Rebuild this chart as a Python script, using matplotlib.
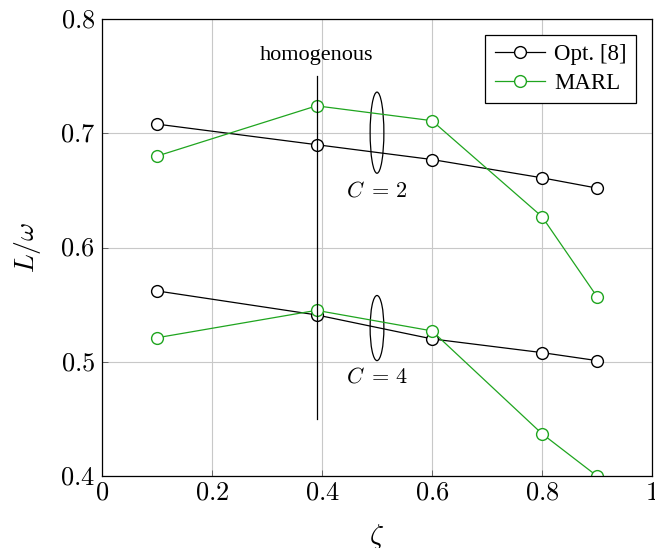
import matplotlib
matplotlib.use("Agg")
import matplotlib.pyplot as plt
from matplotlib.patches import Ellipse

# datos
zeta = [0.1, 0.39, 0.6, 0.8, 0.9]
opt_c2 = [0.708, 0.690, 0.677, 0.661, 0.652]
marl_c2 = [0.680, 0.724, 0.711, 0.627, 0.557]
opt_c4 = [0.562, 0.541, 0.520, 0.508, 0.501]
marl_c4 = [0.521, 0.545, 0.527, 0.437, 0.400]

xticks = [0, 0.2, 0.4, 0.6, 0.8, 1]
yticks = [0.4, 0.5, 0.6, 0.7, 0.8]

verde = "#1fa51f"
plt.rcParams["mathtext.fontset"] = "cm"
plt.rcParams["font.family"] = "Liberation Serif"

fig = plt.figure(figsize=(6.55, 5.48), dpi=100)
ax = fig.add_axes([102 / 655, 1 - 476 / 548, 550 / 655, 457 / 548])

estilo = dict(marker="o", markersize=8.5, markerfacecolor="white", lw=0.9)
ax.plot(zeta, opt_c2, color="black", label="Opt. [8]", **estilo)
ax.plot(zeta, marl_c2, color=verde, label="MARL", **estilo)
ax.plot(zeta, opt_c4, color="black", **estilo)
ax.plot(zeta, marl_c4, color=verde, **estilo)

# linea vertical "homogenous"
ax.plot([0.39, 0.39], [0.45, 0.75], color="black", lw=0.9)
ax.text(0.39, 0.768, "homogenous", ha="center", va="center", fontsize=16)

# elipses que agrupan las curvas
ax.add_patch(Ellipse((0.5, 0.7005), 0.025, 0.071, fill=False, lw=0.9, color="black"))
ax.add_patch(Ellipse((0.5, 0.5295), 0.025, 0.057, fill=False, lw=0.9, color="black"))
ax.text(0.5, 0.649, r"$C\;=\,2$", ha="center", va="center", fontsize=16)
ax.text(0.5, 0.486, r"$C\;=\,4$", ha="center", va="center", fontsize=16)

ax.set_xlim(0, 1)
ax.set_ylim(0.4, 0.8)
ax.set_xticks(xticks)
ax.set_yticks(yticks)
ax.set_xticklabels(["$%g$" % t for t in xticks], fontsize=19)
ax.set_yticklabels(["$%g$" % t for t in yticks], fontsize=19)
ax.tick_params(direction="in", length=4, width=0.6, color="#555555", pad=5)
ax.grid(True, color="#c8c8c8", lw=0.8)
ax.set_axisbelow(True)
for s in ax.spines.values():
    s.set_linewidth(0.9)

ax.set_xlabel(r"$\zeta$", fontsize=20, labelpad=12)
ax.set_ylabel(r"$L/\omega$", fontsize=20, labelpad=12)

leg = ax.legend(loc="upper right", fontsize=16.5, fancybox=False, edgecolor="black",
                framealpha=1, handlelength=2.2, handletextpad=0.4,
                borderaxespad=0.7, labelspacing=0.35)
leg.get_frame().set_linewidth(0.9)

fig.savefig("out.png", dpi=100)
